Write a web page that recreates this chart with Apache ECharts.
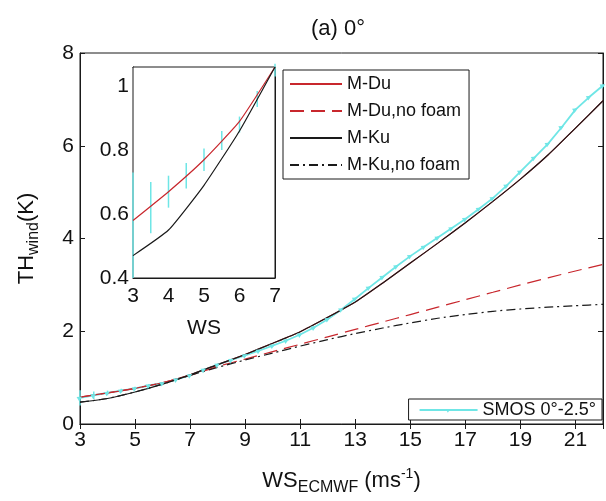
<!DOCTYPE html>
<html>
<head>
<meta charset="utf-8">
<title>TH wind</title>
<style>
  html, body { margin: 0; padding: 0; background: #fff; }
  #chart { width: 606px; height: 501px; }
</style>
</head>
<body>
<div id="chart"></div>
<script src="https://cdn.jsdelivr.net/npm/echarts@6/dist/echarts.min.js"></script>
<script>
// wind speed (m/s) for the model curves
var wsModel = [3, 4, 5, 6, 7, 8, 9, 10, 11, 12, 13, 14, 15, 16, 17, 18, 19, 20, 21, 22];
var mDu       = [0.58, 0.67, 0.77, 0.89, 1.06, 1.28, 1.50, 1.74, 1.99, 2.30, 2.63, 3.04, 3.47, 3.90, 4.34, 4.80, 5.28, 5.80, 6.38, 6.97];
var mDuNoFoam = [0.58, 0.67, 0.77, 0.89, 1.05, 1.24, 1.40, 1.56, 1.72, 1.88, 2.04, 2.20, 2.36, 2.52, 2.68, 2.84, 3.00, 3.15, 3.30, 3.44];
var mKu       = [0.47, 0.55, 0.69, 0.86, 1.06, 1.28, 1.50, 1.74, 1.99, 2.30, 2.63, 3.04, 3.47, 3.90, 4.34, 4.80, 5.28, 5.80, 6.38, 6.97];
var mKuNoFoam = [0.47, 0.55, 0.69, 0.86, 1.05, 1.22, 1.38, 1.53, 1.68, 1.82, 1.95, 2.07, 2.18, 2.28, 2.36, 2.43, 2.48, 2.52, 2.55, 2.58];

// SMOS 0-2.5 deg observations
var wsSmos = [3, 3.5, 4, 4.5, 5, 5.5, 6, 6.5, 7, 7.5, 8, 8.5, 9, 9.5, 10, 10.5, 11, 11.5, 12, 12.5,
              13, 13.5, 14, 14.5, 15, 15.5, 16, 16.5, 17, 17.5, 18, 18.5, 19, 19.5, 20, 20.5, 21, 21.5, 22];
var smos = [0.565, 0.62, 0.67, 0.72, 0.77, 0.83, 0.88, 0.96, 1.05, 1.17, 1.28, 1.38, 1.48, 1.58, 1.69, 1.80, 1.93, 2.08, 2.26, 2.47,
            2.70, 2.94, 3.17, 3.40, 3.62, 3.82, 4.02, 4.22, 4.42, 4.64, 4.87, 5.14, 5.44, 5.74, 6.04, 6.40, 6.78, 7.05, 7.30];
var smosErr = [0.165, 0.08, 0.05, 0.04, 0.035, 0.03, 0.025, 0.025, 0.02, 0.02, 0.02, 0.02, 0.02, 0.02, 0.02, 0.02, 0.02, 0.02, 0.02, 0.02,
               0.02, 0.02, 0.02, 0.02, 0.02, 0.02, 0.02, 0.02, 0.02, 0.02, 0.02, 0.02, 0.02, 0.02, 0.02, 0.02, 0.02, 0.02, 0.02];

var RED = '#c8272d', BLACK = '#1a1a1a', CYAN = '#6fe6e6';
var FONT = 'Liberation Sans, Arial, sans-serif';

function pairs(xs, ys, maxX) {
  var out = [];
  for (var i = 0; i < xs.length; i++) {
    if (maxX == null || xs[i] <= maxX) out.push([xs[i], ys[i]]);
  }
  return out;
}
function errData(maxX) {
  var out = [];
  for (var i = 0; i < wsSmos.length; i++) {
    if (maxX == null || wsSmos[i] <= maxX) out.push([wsSmos[i], smos[i] - smosErr[i], smos[i] + smosErr[i]]);
  }
  return out;
}
function renderErr(params, api) {
  var x = api.value(0);
  var p1 = api.coord([x, api.value(1)]);
  var p2 = api.coord([x, api.value(2)]);
  return {
    type: 'line',
    shape: { x1: p1[0], y1: p1[1], x2: p2[0], y2: p2[1] },
    style: { stroke: CYAN, lineWidth: 1.5 }
  };
}

var axisLine = { show: true, lineStyle: { color: BLACK, width: 1 } };
var tickIn = { show: true, inside: true, length: 5, lineStyle: { color: BLACK } };
var lbl = { color: '#111', fontSize: 21, fontFamily: FONT };

var myChart = echarts.init(document.getElementById('chart'));
myChart.setOption({
  animation: false,
  backgroundColor: '#fff',
  textStyle: { fontFamily: FONT },
  title: {
    text: '(a) 0°',
    left: 306, top: 13,
    textStyle: { fontSize: 22, fontWeight: 'normal', color: '#111', fontFamily: FONT }
  },
  legend: [{
    data: ['M-Du', 'M-Du,no foam', 'M-Ku', 'M-Ku,no foam'],
    orient: 'vertical',
    left: 283, top: 70,
    padding: [5, 8, 5, 6],
    itemGap: 9,
    itemWidth: 52, itemHeight: 14,
    itemStyle: { opacity: 0 },
    borderColor: BLACK, borderWidth: 1,
    backgroundColor: '#fff',
    textStyle: { fontSize: 18, color: '#111', fontFamily: FONT }
  }, {
    data: ['SMOS 0°-2.5°'],
    right: 4, top: 399,
    padding: [2, 6, 1, 10],
    itemWidth: 58, itemHeight: 5,
    borderColor: BLACK, borderWidth: 1,
    backgroundColor: '#fff',
    textStyle: { fontSize: 18, color: '#111', fontFamily: FONT }
  }],
  grid: [
    { left: 80, top: 53, right: 2, bottom: 76, show: true, borderColor: BLACK, borderWidth: 1 },
    { left: 133, top: 67, width: 142, height: 211, show: true, borderColor: BLACK, borderWidth: 1, backgroundColor: '#fff', z: 5 }
  ],
  xAxis: [
    {
      gridIndex: 0, type: 'value', min: 3, max: 22, interval: 2,
      axisLine: axisLine, axisTick: tickIn, splitLine: { show: false },
      axisLabel: Object.assign({ margin: 6, formatter: function (v) { return v === 22 ? '' : String(v); } }, lbl),
      name: 'WS{sub|ECMWF} (ms{sup|-1})',
      nameLocation: 'middle', nameGap: 42,
      nameTextStyle: {
        fontSize: 22, color: '#111', fontFamily: FONT,
        rich: {
          sub: { fontSize: 16, color: '#111', fontFamily: FONT, padding: [14, 0, 0, 0] },
          sup: { fontSize: 14, color: '#111', fontFamily: FONT, padding: [0, 0, 14, 0] }
        }
      }
    },
    {
      gridIndex: 0, type: 'value', min: 3, max: 22, interval: 2, position: 'top',
      axisLine: axisLine, axisTick: tickIn, axisLabel: { show: false }, splitLine: { show: false }
    },
    {
      gridIndex: 1, type: 'value', min: 3, max: 7, interval: 1,
      axisLine: axisLine, axisTick: tickIn, splitLine: { show: false },
      axisLabel: Object.assign({ margin: 8 }, lbl),
      name: 'WS', nameLocation: 'middle', nameGap: 26,
      nameTextStyle: { fontSize: 21, color: '#111', fontFamily: FONT, padding: [14, 0, 0, 0] }
    },
    {
      gridIndex: 1, type: 'value', min: 3, max: 7, interval: 1, position: 'top',
      axisLine: axisLine, axisTick: tickIn, axisLabel: { show: false }, splitLine: { show: false }
    }
  ],
  yAxis: [
    {
      gridIndex: 0, type: 'value', min: 0, max: 8, interval: 2,
      axisLine: axisLine, axisTick: tickIn, splitLine: { show: false },
      axisLabel: Object.assign({ margin: 6 }, lbl),
      name: 'TH{sub|wind}(K)',
      nameLocation: 'middle', nameGap: 38,
      nameTextStyle: {
        fontSize: 22, color: '#111', fontFamily: FONT,
        rich: { sub: { fontSize: 16, color: '#111', fontFamily: FONT, padding: [14, 0, 0, 0] } }
      }
    },
    {
      gridIndex: 0, type: 'value', min: 0, max: 8, interval: 2, position: 'right',
      axisLine: axisLine, axisTick: tickIn, axisLabel: { show: false }, splitLine: { show: false }
    },
    {
      gridIndex: 1, type: 'value', min: 0.4, max: 1.06, interval: 0.2,
      axisLine: axisLine, axisTick: tickIn, splitLine: { show: false },
      axisLabel: Object.assign({
        margin: 4,
        formatter: function (v) {
          if (Math.abs(v * 5 - Math.round(v * 5)) > 1e-6) return '';
          return Math.abs(v - 1) < 1e-6 ? '1' : v.toFixed(1);
        }
      }, lbl)
    },
    {
      gridIndex: 1, type: 'value', min: 0.4, max: 1.06, interval: 0.2, position: 'right',
      axisLine: axisLine, axisTick: tickIn, axisLabel: { show: false }, splitLine: { show: false }
    }
  ],
  series: [
    // main panel
    { name: 'SMOS 0°-2.5°', type: 'line', xAxisIndex: 0, yAxisIndex: 0, data: pairs(wsSmos, smos),
      symbol: 'triangle', symbolSize: 5, symbolRotate: -60, showSymbol: true,
      lineStyle: { color: CYAN, width: 1.8 }, itemStyle: { color: CYAN } },
    { name: 'smosErr', type: 'custom', xAxisIndex: 0, yAxisIndex: 0, data: errData(),
      renderItem: renderErr, encode: { x: 0, y: [1, 2] } },
    { name: 'M-Du', type: 'line', xAxisIndex: 0, yAxisIndex: 0, data: pairs(wsModel, mDu), smooth: 0.2,
      symbol: 'none', lineStyle: { color: RED, width: 1.2 }, itemStyle: { color: RED } },
    { name: 'M-Du,no foam', type: 'line', xAxisIndex: 0, yAxisIndex: 0, data: pairs(wsModel, mDuNoFoam), smooth: 0.2,
      symbol: 'none', lineStyle: { color: RED, width: 1.2, type: [14, 7] }, itemStyle: { color: RED } },
    { name: 'M-Ku', type: 'line', xAxisIndex: 0, yAxisIndex: 0, data: pairs(wsModel, mKu), smooth: 0.2,
      symbol: 'none', lineStyle: { color: BLACK, width: 1.2 }, itemStyle: { color: BLACK } },
    { name: 'M-Ku,no foam', type: 'line', xAxisIndex: 0, yAxisIndex: 0, data: pairs(wsModel, mKuNoFoam), smooth: 0.2,
      symbol: 'none', lineStyle: { color: BLACK, width: 1.2, type: [9, 4, 2, 4] }, itemStyle: { color: BLACK } },
    // inset panel
    { name: 'SMOS 0°-2.5°', type: 'line', xAxisIndex: 2, yAxisIndex: 2, data: pairs(wsSmos, smos, 7), z: 6,
      symbol: 'none', lineStyle: { color: CYAN, width: 0 }, itemStyle: { color: CYAN } },
    { name: 'smosErrInset', type: 'custom', xAxisIndex: 2, yAxisIndex: 2, data: errData(7), z: 6,
      renderItem: renderErr, encode: { x: 0, y: [1, 2] } },
    { name: 'M-Du', type: 'line', xAxisIndex: 2, yAxisIndex: 2, data: pairs(wsModel, mDu, 7), z: 7, smooth: 0.15,
      symbol: 'none', lineStyle: { color: RED, width: 1.2 }, itemStyle: { color: RED } },
    { name: 'M-Ku', type: 'line', xAxisIndex: 2, yAxisIndex: 2, data: pairs(wsModel, mKu, 7), z: 7, smooth: 0.15,
      symbol: 'none', lineStyle: { color: BLACK, width: 1.2 }, itemStyle: { color: BLACK } }
  ]
});
</script>
</body>
</html>
